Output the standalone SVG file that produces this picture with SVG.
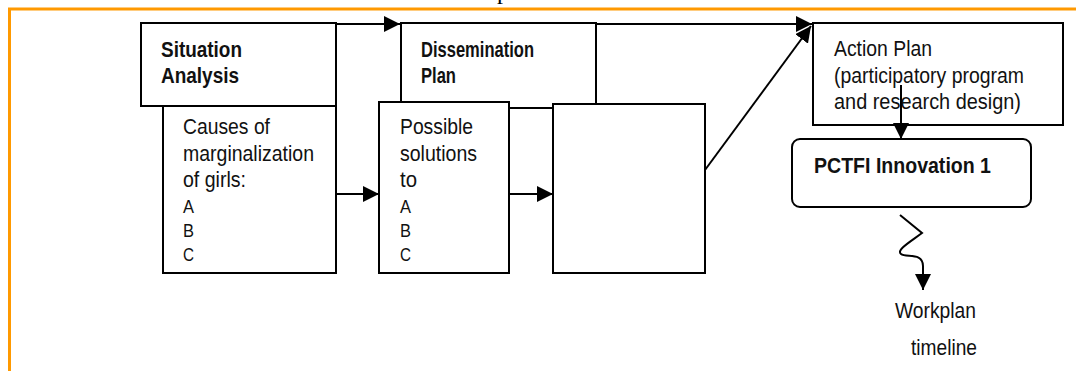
<svg xmlns="http://www.w3.org/2000/svg" width="1076" height="371" viewBox="0 0 1076 371">
<defs>
<style>
.box{fill:#fff;stroke:#000;stroke-width:2}
.ln{fill:none;stroke:#000;stroke-width:2}
.t{font-family:"Liberation Sans",Arial,sans-serif;font-size:22px;fill:#111}
.b{font-weight:bold}
.s{font-size:18px}
</style>
<marker id="ahb" viewBox="0 0 10 10" refX="10" refY="5" markerWidth="16" markerHeight="16" markerUnits="userSpaceOnUse" orient="auto"><path d="M0,0 L10,5 L0,10 Z" fill="#000"/></marker>
</defs>
<rect width="1076" height="371" fill="#fff"/>
<text x="497" y="-1" font-family="Liberation Serif, serif" font-size="24" fill="#000">p</text>
<polyline points="9.5,371 9.5,9 1076,9" fill="none" stroke="#FF9900" stroke-width="3"/>

<g id="situation">
<rect class="box" x="141" y="23" width="195" height="83"/>
<text class="t b" x="161" y="57" textLength="81" lengthAdjust="spacingAndGlyphs">Situation</text>
<text class="t b" x="161" y="83" textLength="78" lengthAdjust="spacingAndGlyphs">Analysis</text>
</g>
<g id="causes">
<rect class="box" x="163" y="106" width="173" height="167"/>
<text class="t" x="183" y="134" textLength="87" lengthAdjust="spacingAndGlyphs">Causes of</text>
<text class="t" x="183" y="161" textLength="131" lengthAdjust="spacingAndGlyphs">marginalization</text>
<text class="t" x="183" y="187" textLength="63" lengthAdjust="spacingAndGlyphs">of girls:</text>
<text class="t s" x="183" y="213" textLength="11" lengthAdjust="spacingAndGlyphs">A</text>
<text class="t s" x="183" y="237" textLength="11" lengthAdjust="spacingAndGlyphs">B</text>
<text class="t s" x="183" y="261" textLength="11" lengthAdjust="spacingAndGlyphs">C</text>
</g>
<g id="dissemination">
<rect class="box" x="401" y="23" width="195" height="85"/>
<text class="t b" x="421" y="57" textLength="113" lengthAdjust="spacingAndGlyphs">Dissemination</text>
<text class="t b" x="421" y="83" textLength="35" lengthAdjust="spacingAndGlyphs">Plan</text>
</g>
<g id="solutions">
<rect class="box" x="379" y="102" width="130" height="171"/>
<text class="t" x="400" y="134" textLength="73" lengthAdjust="spacingAndGlyphs">Possible</text>
<text class="t" x="400" y="161" textLength="77" lengthAdjust="spacingAndGlyphs">solutions</text>
<text class="t" x="400" y="187" textLength="17" lengthAdjust="spacingAndGlyphs">to</text>
<text class="t s" x="400" y="213" textLength="11" lengthAdjust="spacingAndGlyphs">A</text>
<text class="t s" x="400" y="237" textLength="11" lengthAdjust="spacingAndGlyphs">B</text>
<text class="t s" x="400" y="261" textLength="11" lengthAdjust="spacingAndGlyphs">C</text>
</g>
<g id="empty">
<rect class="box" x="553" y="104" width="152" height="169"/>
</g>
<g id="action">
<rect class="box" x="813" y="23" width="250" height="102"/>
<text class="t" x="834" y="56" textLength="98" lengthAdjust="spacingAndGlyphs">Action Plan</text>
<text class="t" x="834" y="83" textLength="190" lengthAdjust="spacingAndGlyphs">(participatory program</text>
<text class="t" x="834" y="109" textLength="187" lengthAdjust="spacingAndGlyphs">and research design)</text>
</g>
<g id="pctfi">
<rect class="box" x="792" y="139" width="239" height="68" rx="8"/>
<text class="t b" x="814" y="173" textLength="177" lengthAdjust="spacingAndGlyphs">PCTFI Innovation 1</text>
</g>
<g id="workplan">
<text class="t" x="895" y="318" textLength="81" lengthAdjust="spacingAndGlyphs">Workplan</text>
<text class="t" x="911" y="355" textLength="66" lengthAdjust="spacingAndGlyphs">timeline</text>
</g>

<g id="connectors">
<line class="ln" x1="336" y1="24" x2="400" y2="24" marker-end="url(#ahb)"/>
<line class="ln" x1="596" y1="24" x2="812" y2="24" marker-end="url(#ahb)"/>
<line class="ln" x1="705" y1="170" x2="811" y2="26" marker-end="url(#ahb)"/>
<line class="ln" x1="336" y1="194" x2="379" y2="194" marker-end="url(#ahb)"/>
<line class="ln" x1="509" y1="194" x2="553" y2="194" marker-end="url(#ahb)"/>
<line class="ln" x1="901" y1="85" x2="901" y2="139" marker-end="url(#ahb)"/>
<path class="ln" d="M900,215 L922,233 C910,242 896,250 901,254 C906,258 923,252 923,266 L923,290" marker-end="url(#ahb)"/>
</g>
</svg>
